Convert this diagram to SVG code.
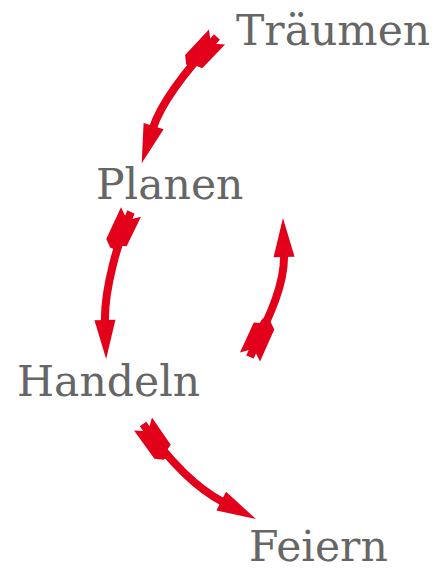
<svg xmlns="http://www.w3.org/2000/svg" width="437" height="568" viewBox="0 0 437 568">
<style>
.lbl{font-family:"DejaVu Serif",serif;font-size:42.5px;fill:#666666}
.arr{fill:none;stroke:#E2001A;stroke-width:8;marker-start:url(#fletch);marker-end:url(#head)}
</style>
<defs>
<marker id="head" markerUnits="userSpaceOnUse" orient="auto" refX="0" refY="0" markerWidth="60" markerHeight="40" viewBox="-5 -20 60 40" overflow="visible">
<path d="M-2,-10.5 L37,0 L-2,10.5 Z" fill="#E2001A"/>
</marker>
<marker id="fletch" markerUnits="userSpaceOnUse" orient="auto" refX="0" refY="0" markerWidth="60" markerHeight="40" viewBox="-5 -20 60 40" overflow="visible">
<path d="M0,-11 L33,-10.5 L35,-5 L41,-4 L41,4 L35,11 L0,11 L9,0 Z" fill="#E2001A"/>
</marker>
</defs>
<g id="connectors">
<path class="arr" d="M217,37 C190,66 162,100 153,128"/>
<path class="arr" d="M131,212 C118,240 104,290 105,322"/>
<path class="arr" d="M250,357 C262,330 285,290 284,255"/>
<path class="arr" d="M143,424 C163,452 190,485 223,502"/>
</g>
<g id="traeumen"><text class="lbl" x="236" y="45">Träumen</text></g>
<g id="planen"><text class="lbl" x="96" y="199">Planen</text></g>
<g id="handeln"><text class="lbl" x="17" y="396">Handeln</text></g>
<g id="feiern"><text class="lbl" x="249" y="561">Feiern</text></g>
</svg>
